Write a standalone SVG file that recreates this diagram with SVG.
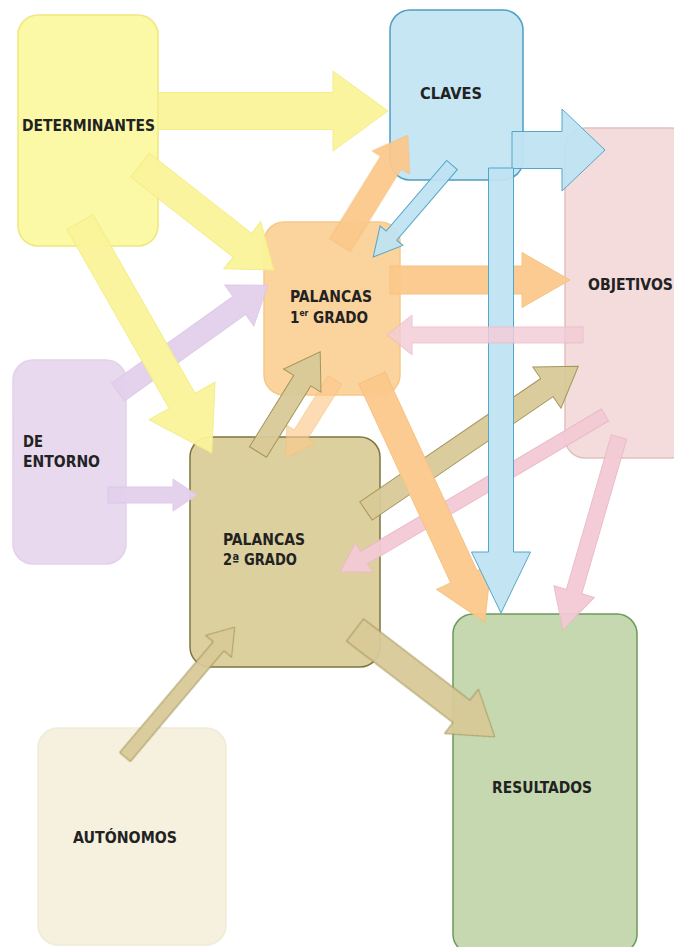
<svg xmlns="http://www.w3.org/2000/svg" width="674" height="947" viewBox="0 0 674 947">
<style>
.lbl{font-family:"DejaVu Sans Condensed","DejaVu Sans","Liberation Sans",sans-serif;font-weight:bold;font-size:16px;fill:#222222}
.sup{font-size:9px}
.node{stroke-width:1.5}
.ar{stroke-width:1;stroke-linejoin:miter}
.yel{fill:#FAF49A;stroke:#F3EC86}
.pur{fill:#E3D0EC;stroke:#DCC8E6}
.org{fill:#FBC98C;stroke:#F5C07F}
.blu{fill:#BFE3F3;stroke:#4DA2C6}
.pnk{fill:#F3CAD5;stroke:#EAB9C6}
.tan{fill:#D8CA98;stroke:#A09358}
</style>
<rect width="674" height="947" fill="#FFFFFF"/>
<g id="nodes">
<g id="determinantes"><rect class="node" x="18" y="15" width="140" height="231" rx="20" fill="#FBF8A6" stroke="#EEE87C"/><text class="lbl" x="22" y="131" textLength="133" lengthAdjust="spacingAndGlyphs">DETERMINANTES</text></g>
<g id="claves"><rect class="node" x="390" y="10" width="133" height="170" rx="20" fill="#C7E6F4" stroke="#4E9FC2"/><text class="lbl" x="420" y="99" textLength="62" lengthAdjust="spacingAndGlyphs">CLAVES</text></g>
<g id="objetivos"><rect class="node" x="565" y="128" width="125" height="330" rx="20" fill="#F3DCDB" stroke="#E2C0C0"/><text class="lbl" x="588" y="290" textLength="85" lengthAdjust="spacingAndGlyphs">OBJETIVOS</text></g>
<g id="palancas1"><rect class="node" x="264" y="222" width="136" height="173" rx="20" fill="#FBD39C" stroke="#F6C98A"/><text class="lbl" x="290" y="302" textLength="82" lengthAdjust="spacingAndGlyphs">PALANCAS</text><text class="lbl" x="290" y="323" textLength="78" lengthAdjust="spacingAndGlyphs">1<tspan class="sup" dy="-7">er</tspan><tspan dy="7"> GRADO</tspan></text></g>
<g id="entorno"><rect class="node" x="13" y="360" width="113" height="204" rx="20" fill="#E8D9EF" stroke="#E2D1EA"/><text class="lbl" x="23" y="447" textLength="20" lengthAdjust="spacingAndGlyphs">DE</text><text class="lbl" x="23" y="467" textLength="77" lengthAdjust="spacingAndGlyphs">ENTORNO</text></g>
<g id="palancas2"><rect class="node" x="190" y="437" width="190" height="230" rx="20" fill="#DCD19E" stroke="#7E7540"/><text class="lbl" x="223" y="545" textLength="82" lengthAdjust="spacingAndGlyphs">PALANCAS</text><text class="lbl" x="223" y="565" textLength="74" lengthAdjust="spacingAndGlyphs">2ª GRADO</text></g>
<g id="autonomos"><rect class="node" x="38" y="728" width="188" height="217" rx="20" fill="#F6F1DE" stroke="#F0EBD6"/><text class="lbl" x="73" y="843" textLength="104" lengthAdjust="spacingAndGlyphs">AUTÓNOMOS</text></g>
<g id="resultados"><rect class="node" x="453" y="614" width="184" height="340" rx="20" fill="#C5D8AF" stroke="#6E995F"/><text class="lbl" x="492" y="793" textLength="100" lengthAdjust="spacingAndGlyphs">RESULTADOS</text></g>
</g>
<g id="connectors" opacity="0.95">
<polygon class="ar yel" transform="translate(158,111)" points="0,-18.5 175,-18.5 175,-40 230,0 175,40 175,18.5 0,18.5"/>
<polygon class="ar yel" transform="translate(140,165) rotate(38.1)" points="0,-15 130,-15 130,-30 170,0 130,30 130,15 0,15"/>
<polygon class="ar pur" transform="translate(118,392) rotate(-35.5)" points="0,-11 149,-11 149,-25 184,0 149,25 149,11 0,11"/>
<polygon class="ar yel" transform="translate(80,222) rotate(60.3)" points="0,-15 206,-15 206,-38 266,0 206,38 206,15 0,15"/>
<polygon class="ar pur" transform="translate(108,495)" points="0,-8 65,-8 65,-16 89,0 65,16 65,8 0,8"/>
<polygon class="ar pnk" transform="translate(605,415) rotate(149.4)" points="0,-7 280,-7 280,-17 308,0 280,17 280,7 0,7"/>
<polygon class="ar pnk" transform="translate(619,437) rotate(106.2)" points="0,-8 161,-8 161,-21 201,0 161,21 161,8 0,8"/>
<polygon class="ar tan" transform="translate(366,511) rotate(-34.3)" points="0,-11 219,-11 219,-25 257,0 219,25 219,11 0,11"/>
<polygon class="ar org" transform="translate(372,378) rotate(65.2)" points="0,-14.5 219,-14.5 219,-30 269,0 219,30 219,14.5 0,14.5"/>
<polygon class="ar org" opacity="0.7" transform="translate(335,380) rotate(122.1)" points="0,-8 64,-8 64,-17 92,0 64,17 64,8 0,8"/>
<polygon class="ar org" transform="translate(340,245) rotate(-58.3)" points="0,-12 97,-12 97,-22 129,0 97,22 97,12 0,12"/>
<polygon class="ar org" transform="translate(390,280)" points="0,-14 132,-14 132,-27.5 180,0 132,27.5 132,14 0,14"/>
<polygon class="ar tan" transform="translate(258,452) rotate(-58.2)" points="0,-10 84,-10 84,-22 118,0 84,22 84,10 0,10"/>
<polygon class="ar tan" transform="translate(125,757) rotate(-49.8)" points="0,-7 145,-7 145,-17 170,0 145,17 145,7 0,7"/>
<polygon class="ar tan" transform="translate(355,630) rotate(37.4)" points="0,-14 134,-14 134,-28 176,0 134,28 134,14 0,14"/>
<polygon class="ar blu" transform="translate(452,165) rotate(130.6)" points="0,-7 93,-7 93,-15 121,0 93,15 93,7 0,7"/>
<polygon class="ar blu" transform="translate(512,150)" points="0,-18.5 50,-18.5 50,-41 93,0 50,41 50,18.5 0,18.5"/>
<polygon class="ar blu" transform="translate(501,168) rotate(90)" points="0,-12.5 384,-12.5 384,-29.5 445,0 384,29.5 384,12.5 0,12.5"/>
<polygon class="ar pnk" opacity="0.85" transform="translate(583,335) rotate(180)" points="0,-8 171,-8 171,-20 196,0 171,20 171,8 0,8"/>
</g>
</svg>
